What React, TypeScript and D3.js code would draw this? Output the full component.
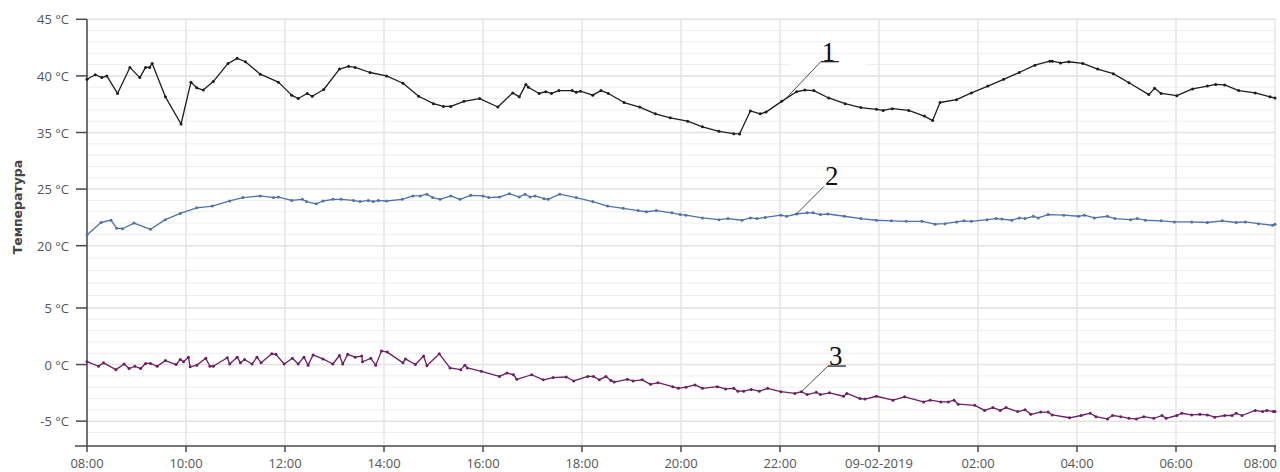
import React, { useEffect, useRef } from "react";
import * as d3 from "d3";

// [minutes after 08:00 on 08-02-2019, °C]
const sensor1 = [
  [0, 39.7], [10, 40.1], [18, 39.85], [24, 40.0], [37, 38.45], [52, 40.75], [64, 39.85], [71, 40.75], [76, 40.75], [79, 41.1],
  [95, 38.15], [114, 35.75], [126, 39.45], [133, 38.95], [141, 38.75], [153, 39.5], [171, 41.1], [182, 41.55], [192, 41.25], [210, 40.15],
  [232, 39.45], [248, 38.3], [256, 38.0], [267, 38.45], [273, 38.2], [287, 38.8], [306, 40.6], [317, 40.85], [325, 40.75], [343, 40.3],
  [363, 40.0], [383, 39.35], [402, 38.2], [420, 37.55], [432, 37.3], [441, 37.3], [457, 37.75], [476, 38.0], [498, 37.25], [516, 38.5],
  [524, 38.15], [532, 39.25], [535, 39.0], [548, 38.45], [556, 38.6], [563, 38.45], [572, 38.7], [588, 38.7], [593, 38.55], [598, 38.65],
  [613, 38.3], [623, 38.7], [632, 38.45], [651, 37.65], [670, 37.25], [689, 36.65], [707, 36.3], [728, 36.0], [746, 35.5], [766, 35.1],
  [784, 34.8], [791, 34.75], [804, 36.9], [816, 36.65], [823, 36.8], [842, 37.75], [860, 38.6], [870, 38.75], [881, 38.7], [899, 38.05],
  [919, 37.55], [938, 37.2], [957, 37.05], [965, 36.95], [976, 37.1], [996, 36.95], [1015, 36.45], [1025, 36.05], [1034, 37.65], [1054, 37.9],
  [1072, 38.5], [1092, 39.1], [1111, 39.7], [1130, 40.3], [1149, 40.95], [1167, 41.3], [1170, 41.3], [1180, 41.15], [1190, 41.25], [1207, 41.1],
  [1225, 40.6], [1244, 40.2], [1263, 39.4], [1287, 38.35], [1294, 38.9], [1302, 38.45], [1321, 38.25], [1340, 38.85], [1358, 39.1], [1368, 39.25],
  [1379, 39.2], [1396, 38.7], [1416, 38.5], [1434, 38.15], [1440, 38.05],
];

const sensor2 = [
  [0, 20.95], [17, 22.05], [29, 22.25], [36, 21.55], [43, 21.5], [57, 22.0], [77, 21.45], [95, 22.3], [113, 22.85], [133, 23.35],
  [152, 23.5], [173, 23.95], [189, 24.25], [210, 24.4], [226, 24.25], [232, 24.3], [248, 24.0], [261, 24.1], [266, 23.9], [278, 23.7],
  [286, 23.95], [298, 24.1], [308, 24.1], [323, 24.0], [331, 23.9], [341, 24.0], [347, 23.9], [353, 24.0], [363, 23.95], [382, 24.1],
  [395, 24.4], [404, 24.4], [412, 24.55], [419, 24.25], [428, 24.1], [441, 24.4], [452, 24.1], [465, 24.45], [480, 24.4], [487, 24.25],
  [500, 24.3], [512, 24.6], [524, 24.3], [531, 24.55], [537, 24.3], [543, 24.4], [554, 24.15], [559, 24.1], [573, 24.55], [593, 24.25],
  [613, 23.9], [631, 23.5], [650, 23.3], [668, 23.1], [678, 23.0], [690, 23.1], [709, 22.9], [719, 22.75], [726, 22.7], [746, 22.45],
  [766, 22.3], [777, 22.4], [794, 22.25], [804, 22.45], [812, 22.4], [822, 22.5], [841, 22.7], [848, 22.6], [860, 22.8], [873, 22.9],
  [880, 22.9], [889, 22.75], [898, 22.8], [918, 22.6], [938, 22.4], [957, 22.25], [975, 22.2], [993, 22.15], [1012, 22.15], [1028, 21.9],
  [1040, 21.95], [1054, 22.1], [1063, 22.2], [1072, 22.15], [1091, 22.3], [1102, 22.4], [1109, 22.35], [1121, 22.25], [1130, 22.45], [1137, 22.4],
  [1147, 22.6], [1153, 22.45], [1165, 22.75], [1184, 22.7], [1202, 22.6], [1209, 22.7], [1221, 22.45], [1237, 22.6], [1246, 22.4], [1265, 22.3],
  [1273, 22.4], [1283, 22.25], [1302, 22.2], [1318, 22.1], [1339, 22.1], [1358, 22.05], [1376, 22.2], [1393, 22.05], [1404, 22.1], [1420, 21.95],
  [1437, 21.8], [1440, 21.9],
];

const sensor3 = [
  [0, 0.25], [14, -0.15], [20, 0.15], [35, -0.45], [45, 0.05], [51, -0.35], [58, -0.15], [65, -0.35], [71, 0.1], [77, 0.1],
  [85, -0.15], [95, 0.35], [108, 0.0], [113, 0.45], [117, 0.25], [123, 0.65], [125, -0.2], [133, -0.05], [144, 0.55], [149, -0.15],
  [153, -0.15], [170, 0.6], [173, 0.05], [182, 0.65], [186, 0.15], [191, 0.45], [200, 0.05], [206, 0.65], [211, 0.15], [224, 0.95],
  [229, 0.9], [239, 0.05], [249, 0.55], [256, 0.05], [263, 0.65], [268, -0.05], [274, 0.85], [286, 0.5], [298, 0.05], [306, 0.8],
  [310, 0.05], [316, 0.9], [325, 0.65], [333, 0.75], [334, 0.25], [344, 0.55], [350, -0.05], [357, 1.2], [364, 1.1], [383, 0.15],
  [386, 0.5], [398, 0.0], [408, 0.75], [412, -0.1], [427, 0.95], [440, -0.3], [453, -0.45], [458, -0.05], [461, -0.3], [478, -0.6],
  [500, -1.05], [509, -0.75], [517, -0.9], [521, -1.3], [539, -0.9], [553, -1.35], [565, -1.15], [581, -1.1], [590, -1.45], [607, -1.05],
  [614, -1.05], [621, -1.35], [629, -1.05], [635, -1.4], [639, -1.55], [655, -1.3], [662, -1.45], [673, -1.35], [683, -1.75], [692, -1.6],
  [710, -1.95], [717, -2.1], [726, -2.0], [737, -1.8], [746, -2.1], [764, -1.95], [774, -2.15], [784, -2.1], [789, -2.35], [796, -2.35],
  [805, -2.2], [815, -2.35], [825, -2.1], [841, -2.4], [858, -2.55], [866, -2.4], [873, -2.65], [884, -2.45], [889, -2.65], [900, -2.5],
  [917, -2.8], [921, -2.55], [937, -3.0], [943, -3.05], [957, -2.8], [977, -3.15], [991, -2.85], [1014, -3.3], [1022, -3.15], [1035, -3.3],
  [1044, -3.3], [1051, -3.15], [1056, -3.5], [1076, -3.6], [1088, -4.05], [1098, -3.8], [1107, -4.05], [1114, -3.8], [1128, -4.15], [1137, -4.0],
  [1144, -4.4], [1156, -4.2], [1165, -4.2], [1170, -4.45], [1191, -4.7], [1205, -4.5], [1216, -4.3], [1223, -4.6], [1237, -4.8], [1243, -4.5],
  [1253, -4.6], [1263, -4.75], [1272, -4.8], [1281, -4.6], [1293, -4.75], [1303, -4.5], [1308, -4.75], [1321, -4.5], [1327, -4.3], [1339, -4.45],
  [1349, -4.4], [1358, -4.45], [1367, -4.65], [1379, -4.5], [1388, -4.5], [1393, -4.3], [1400, -4.5], [1416, -4.05], [1425, -4.15], [1430, -4.05],
  [1438, -4.15], [1440, -4.15],
];

const seriesLabels = ["1", "2", "3"];
const calloutMinutes = [847, 860, 866];
const yTickValues = [45, 40, 35, 25, 20, 5, 0, -5];
const yAxisTitle = "Температура";
const startTime = new Date(2019, 1, 8, 8, 0);

function valueAt(series: number[][], m: number) {
  for (let i = 1; i < series.length; i++) {
    if (series[i][0] >= m) {
      const [m0, v0] = series[i - 1];
      const [m1, v1] = series[i];
      return v0 + ((v1 - v0) * (m - m0)) / (m1 - m0);
    }
  }
  return series[series.length - 1][1];
}

function TemperatureChart() {
  const ref = useRef<SVGSVGElement>(null);
  const width = 1280;
  const height = 472;
  const left = 87;
  const right = 1275;
  const top = 19.3;
  const bottom = 446;
  // the value axis is broken: labelled ticks sit at these slots (one step = tickStep px)
  const tickStep = 56.6;
  const tickSlots = [0, 1, 2, 3, 4, 5.1, 6.1, 7.1];

  useEffect(() => {
    drawChart();
  });

  function drawChart() {
    const svg = d3.select(ref.current);
    svg.selectAll("*").remove();

    const x = d3
      .scaleTime()
      .domain([startTime, d3.timeHour.offset(startTime, 24)])
      .range([left, right]);

    const y = d3
      .scaleLinear()
      .domain([...yTickValues, -7.2])
      .range([...tickSlots.map((s) => top + s * tickStep), bottom]);

    const toDate = (m: number) => d3.timeMinute.offset(startTime, m);

    // horizontal grid: 5 divisions between labelled ticks
    const minor: number[] = [];
    for (let i = 0; i < yTickValues.length - 1; i++) {
      const a = yTickValues[i];
      const b = yTickValues[i + 1];
      for (let k = 1; k < 5; k++) minor.push(a + ((b - a) * k) / 5);
    }
    minor.push(-6);

    const grid = svg.append("g");
    grid
      .selectAll(".minor")
      .data(minor)
      .enter()
      .append("line")
      .attr("x1", left)
      .attr("x2", right)
      .attr("y1", (d) => y(d))
      .attr("y2", (d) => y(d))
      .style("stroke", "#eeeeee")
      .style("stroke-width", 1);
    grid
      .selectAll(".major")
      .data(yTickValues)
      .enter()
      .append("line")
      .attr("x1", left)
      .attr("x2", right)
      .attr("y1", (d) => y(d))
      .attr("y2", (d) => y(d))
      .style("stroke", "#e2e2e2")
      .style("stroke-width", 1.5);

    const xTicks = x.ticks(d3.timeHour.every(2));
    grid
      .selectAll(".vgrid")
      .data(xTicks)
      .enter()
      .append("line")
      .attr("x1", (d) => x(d))
      .attr("x2", (d) => x(d))
      .attr("y1", top)
      .attr("y2", bottom)
      .style("stroke", "#e6e6e6")
      .style("stroke-width", 1.5);

    // white patch behind the "1" callout
    svg
      .append("rect")
      .attr("x", 790)
      .attr("y", 59)
      .attr("width", 76)
      .attr("height", 10)
      .style("fill", "#ffffff");

    // axes
    const axisColor = "#4a4a4a";
    svg
      .append("line")
      .attr("x1", left)
      .attr("x2", left)
      .attr("y1", top)
      .attr("y2", bottom)
      .style("stroke", axisColor)
      .style("stroke-width", 1.5);
    svg
      .append("line")
      .attr("x1", left - 12)
      .attr("x2", right + 1)
      .attr("y1", bottom)
      .attr("y2", bottom)
      .style("stroke", axisColor)
      .style("stroke-width", 1.5);

    const yTicks = svg.append("g").selectAll("g").data(yTickValues).enter().append("g");
    yTicks
      .append("line")
      .attr("x1", left - 11)
      .attr("x2", left)
      .attr("y1", (d) => y(d))
      .attr("y2", (d) => y(d))
      .style("stroke", axisColor)
      .style("stroke-width", 1.5);
    yTicks
      .append("text")
      .attr("x", left - 18)
      .attr("y", (d) => y(d))
      .attr("text-anchor", "end")
      .attr("dominant-baseline", "central")
      .style("font-family", "'Open Sans', sans-serif")
      .style("font-size", "13px")
      .style("fill", "#555555")
      .text((d) => `${d} °C`);

    const fmtTime = d3.timeFormat("%H:%M");
    const fmtDay = d3.timeFormat("%d-%m-%Y");
    const xTickG = svg.append("g").selectAll("g").data(xTicks).enter().append("g");
    xTickG
      .append("line")
      .attr("x1", (d) => x(d))
      .attr("x2", (d) => x(d))
      .attr("y1", bottom)
      .attr("y2", bottom + 6)
      .style("stroke", axisColor)
      .style("stroke-width", 1.5);
    xTickG
      .append("text")
      .attr("x", (d, i) => (i === xTicks.length - 1 ? right + 2 : x(d)))
      .attr("y", 468)
      .attr("text-anchor", (d, i) => (i === xTicks.length - 1 ? "end" : "middle"))
      .style("font-family", "'Open Sans', sans-serif")
      .style("font-size", "13px")
      .style("fill", "#555555")
      .text((d) => (d.getHours() === 0 ? fmtDay(d) : fmtTime(d)));

    svg
      .append("text")
      .attr("transform", `translate(17.5, 207) rotate(-90)`)
      .attr("text-anchor", "middle")
      .attr("dominant-baseline", "central")
      .style("font-family", "'DejaVu Sans', sans-serif")
      .style("font-size", "12.5px")
      .style("font-weight", "bold")
      .style("fill", "#444444")
      .text(yAxisTitle);

    // series
    const allSeries = [sensor1, sensor2, sensor3];
    const colors = ["#1e1e1e", "#5072a6", "#6c1f62"];
    const lineGen = d3
      .line<number[]>()
      .x((d) => x(toDate(d[0])))
      .y((d) => y(d[1]));

    allSeries.forEach((series, i) => {
      const g = svg.append("g");
      g.append("path")
        .attr("d", lineGen(series))
        .style("fill", "none")
        .style("stroke", colors[i])
        .style("stroke-width", 1.3)
        .style("stroke-linejoin", "round");
      g.selectAll("circle")
        .data(series)
        .enter()
        .append("circle")
        .attr("cx", (d) => x(toDate(d[0])))
        .attr("cy", (d) => y(d[1]))
        .attr("r", 1.5)
        .style("fill", colors[i]);
    });

    // numbered callouts with leader lines
    const offsets = [
      [35, -37, true],
      [27.5, -27.7, false],
      [26.5, -25.7, true],
    ];
    seriesLabels.forEach((label, i) => {
      const m = calloutMinutes[i];
      const ax = x(toDate(m));
      const ay = y(valueAt(allSeries[i], m));
      const [dx, dy, underline] = offsets[i] as [number, number, boolean];
      const ex = ax + dx;
      const ey = ay + dy;
      svg
        .append("line")
        .attr("x1", ax)
        .attr("y1", ay)
        .attr("x2", ex)
        .attr("y2", ey)
        .style("stroke", "#222222")
        .style("stroke-width", 0.8);
      if (underline) {
        svg
          .append("line")
          .attr("x1", ex)
          .attr("x2", ex + 18)
          .attr("y1", ey)
          .attr("y2", ey)
          .style("stroke", "#111111")
          .style("stroke-width", 1.2);
      }
      svg
        .append("text")
        .attr("x", ex + 1)
        .attr("y", ey - 1)
        .style("font-family", "'Liberation Serif', serif")
        .style("font-size", "27px")
        .style("fill", "#111111")
        .text(label);
    });
  }

  return (
    <svg
      ref={ref}
      width={width}
      height={height}
      style={{ position: "absolute", left: 0, top: 0, background: "#ffffff" }}
    />
  );
}

export default function App() {
  return <TemperatureChart />;
}
